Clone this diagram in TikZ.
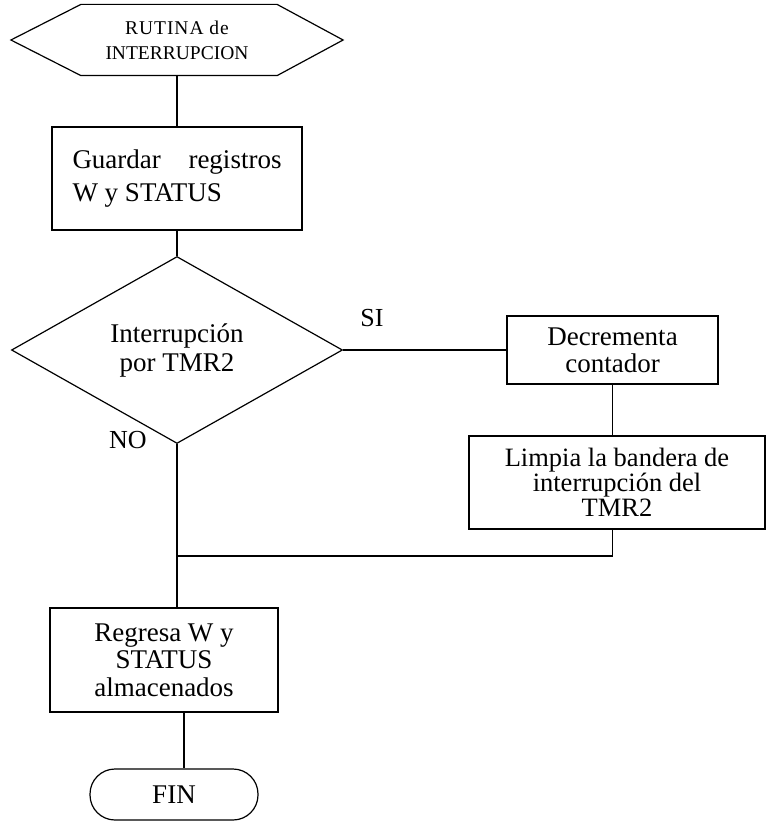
\documentclass[tikz,border=0pt]{standalone}
\usepackage{fontspec}
\setmainfont{Liberation Serif}
\usetikzlibrary{shapes.geometric,calc}
\begin{document}
\begin{tikzpicture}[x=1pt,y=-1pt,line width=1.2pt,
  box/.style={draw,rectangle,inner sep=0pt,align=center},
  txt/.style={font=\fontsize{27}{27}\selectfont},
  lbl/.style={inner sep=0pt,font=\fontsize{26}{26}\selectfont}]
\useasboundingbox (0,0) rectangle (766,821);

% start terminal (hexagon)
\node[inner sep=0pt,minimum width=331pt,minimum height=70pt,align=center,
      font=\fontsize{19.5}{25}\selectfont] (start) at (177,40)
  {{\addfontfeature{LetterSpace=5}RUTINA de}\\INTERRUPCION};
\draw (start.west) -- ($(start.north west)+(70,0)$) -- ($(start.north east)+(-66,0)$)
  -- (start.east) -- ($(start.south east)+(-66,0)$) -- ($(start.south west)+(70,0)$) -- cycle;

% save registers
\node[box,align=left,minimum width=250pt,minimum height=103pt,
      font=\fontsize{27}{33}\selectfont] (save) at (177,178.5)
  {\makebox[209pt][s]{Guardar\hfill registros}\\W y STATUS};

% decision
\node[draw,diamond,inner sep=0pt,minimum width=331pt,minimum height=136pt,align=center,
      font=\fontsize{27}{29}\selectfont] (ask) at (177,350) {Interrupción\\por TMR2};

% TMR2 branch
\node[box,txt,minimum width=211pt,minimum height=68pt] (dec) at (612.5,350) {Decrementa\\contador};
\node[box,minimum width=296pt,minimum height=93pt,
      font=\fontsize{26.5}{25}\selectfont] (clear) at (617,482.5) {Limpia la bandera de\\interrupción del\\TMR2};

% restore and end
\node[box,minimum width=228pt,minimum height=104pt,
      font=\fontsize{27}{27.5}\selectfont] (restore) at (164,660) {Regresa W y\\STATUS\\almacenados};
\node[draw,rectangle,rounded corners=25pt,inner sep=0pt,minimum width=168pt,minimum height=51pt,
      font=\fontsize{27}{27}\selectfont] (fin) at (174,794.5) {FIN};

% branch labels
\node[lbl] (si) at (372,318) {SI};
\node[lbl] (no) at (128,440) {NO};

% connectors
\coordinate (join) at (177,556);
\coordinate (finlink) at (184,0);
\draw (start.south) -- (save.north);
\draw (save.south) -- (ask.north);
\draw (ask.east) -- (dec.west);
\draw (dec.south) -- (dec.south |- clear.north);
\draw (dec.south |- clear.south) -- (dec.south |- join) -- (join);
\draw (ask.south) -- (ask.south |- restore.north);
\draw (finlink |- restore.south) -- (finlink |- fin.north);
\end{tikzpicture}
\end{document}
